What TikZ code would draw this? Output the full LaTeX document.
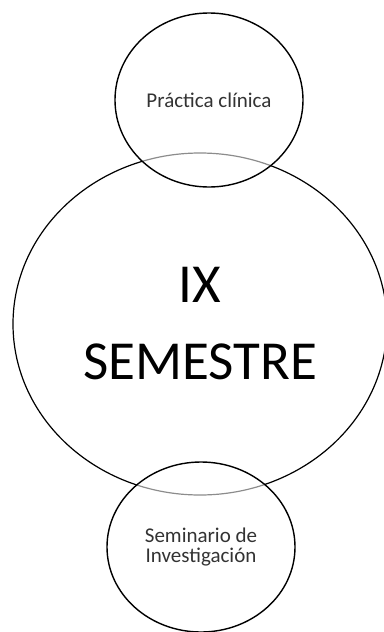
\documentclass[tikz,border=0pt]{standalone}
\usepackage{fontspec}
\setmainfont{Carlito}
\usetikzlibrary{shapes.geometric}

\begin{document}
\begin{tikzpicture}[x=1pt,y=-1pt,
  bigcirc/.style={draw,ellipse,line width=1.2pt,inner sep=0pt,
    minimum width=374pt,minimum height=342pt,align=center,
    font=\fontsize{55}{77}\selectfont},
  smallcirc/.style={draw,ellipse,line width=1.4pt,inner sep=0pt,
    fill=white,fill opacity=.55,text opacity=1,text=black!80,
    minimum width=188pt,align=center,
    font=\fontsize{21}{20}\selectfont}]
\useasboundingbox (0,0) rectangle (383,632);
\node[bigcirc] (sem) at (200,324) {IX\\SEMESTRE};
\node[smallcirc,minimum height=174pt] (prac) at (209,100) {Práctica clínica};
\node[smallcirc,minimum height=170pt] (inv) at (201,547) {Seminario de\\Investigación};
\end{tikzpicture}
\end{document}
